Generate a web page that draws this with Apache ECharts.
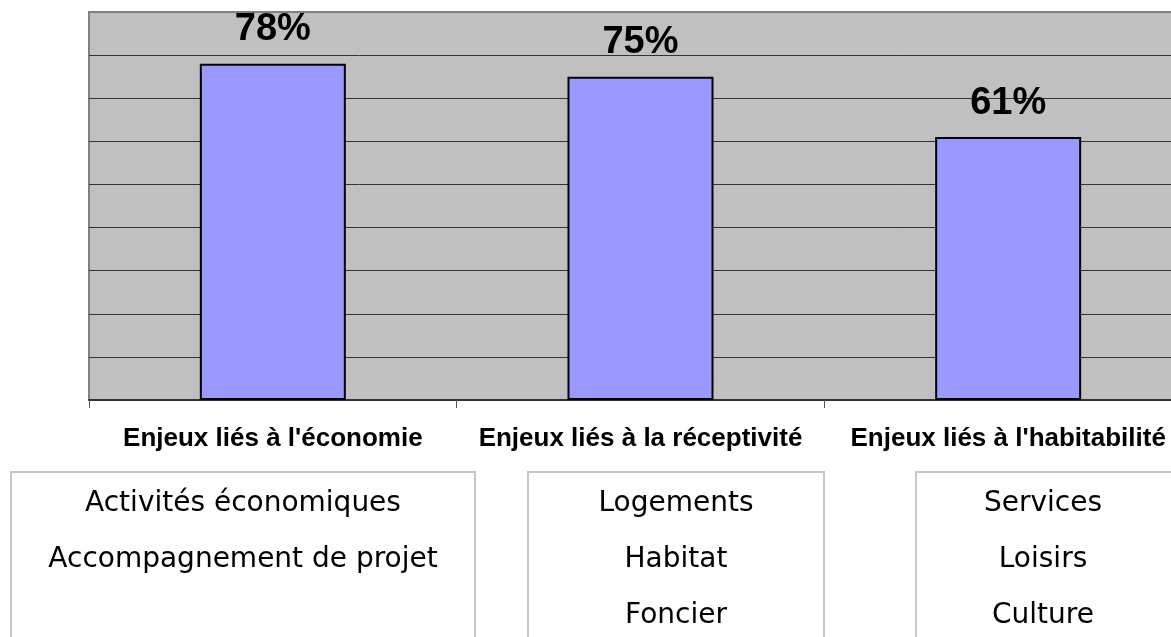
<!DOCTYPE html>
<html>
<head>
<meta charset="utf-8">
<script src="https://cdn.jsdelivr.net/npm/echarts@6/dist/echarts.min.js"></script>
<style>
  html, body { margin: 0; padding: 0; background: #fff; }
  #main { width: 1171px; height: 637px; }
</style>
</head>
<body>
<div id="main"></div>
<script>
// données
const categories = ["Enjeux liés à l'économie", 'Enjeux liés à la réceptivité', "Enjeux liés à l'habitabilité"];
const values = [78, 75, 61];
const boxLines = [
    ['Activités économiques', 'Accompagnement de projet'],
    ['Logements', 'Habitat', 'Foncier'],
    ['Services', 'Loisirs', 'Culture']
];

// cadres sous l'axe (x gauche, x droite, centre du texte)
const boxes = [
    { x0: 11, x1: 475, cx: 243 },
    { x0: 528, x1: 824, cx: 676 },
    { x0: 916, x1: 1180, cx: 1043 }
];

let myChart = echarts.init(document.getElementById('main'));

let graphics = [];
boxes.forEach(function (b, i) {
    graphics.push({
        type: 'rect',
        shape: { x: b.x0, y: 472, width: b.x1 - b.x0, height: 250 },
        style: { fill: '#fff', stroke: '#C6C6C6', lineWidth: 2 },
        silent: true
    });
    graphics.push({
        type: 'text',
        x: b.cx,
        y: 476,
        style: {
            text: boxLines[i].join('\n'),
            fontFamily: 'DejaVu Sans',
            fontSize: 28,
            lineHeight: 56,
            fill: '#000',
            align: 'center',
            verticalAlign: 'top'
        },
        silent: true
    });
});

let option = {
    backgroundColor: '#fff',
    animation: false,
    grid: {
        left: 89,
        top: 12,
        width: 1103,
        height: 388,
        outerBoundsMode: 'none',
        show: true,
        backgroundColor: '#C0C0C0',
        borderColor: '#808080',
        borderWidth: 2
    },
    xAxis: {
        type: 'category',
        data: categories,
        boundaryGap: true,
        axisLine: { show: true, lineStyle: { color: '#333', width: 2 } },
        axisTick: { show: true, interval: 0, length: 8, lineStyle: { color: '#555', width: 1 } },
        axisLabel: {
            interval: 0,
            margin: 26,
            fontFamily: 'Liberation Sans',
            fontWeight: 'bold',
            fontSize: 26,
            color: '#000'
        }
    },
    yAxis: {
        type: 'value',
        min: 0,
        max: 90,
        interval: 10,
        axisLabel: { show: false },
        axisLine: { show: false },
        axisTick: { show: false },
        splitLine: { showMaxLine: false, lineStyle: { color: '#333', width: 1 } }
    },
    series: [{
        type: 'bar',
        data: values,
        barWidth: 146,
        itemStyle: {
            color: '#9999FF',
            borderColor: '#000',
            borderWidth: 2
        },
        label: {
            show: true,
            position: 'top',
            distance: 15,
            formatter: '{c}%',
            fontFamily: 'Liberation Sans',
            fontWeight: 'bold',
            fontSize: 38,
            color: '#000'
        }
    }],
    graphic: graphics
};

myChart.setOption(option);
</script>
</body>
</html>
